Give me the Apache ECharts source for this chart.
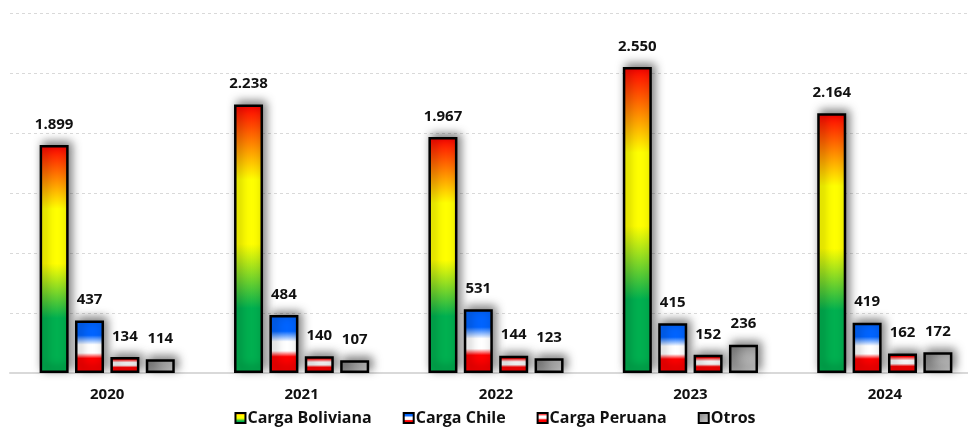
<!DOCTYPE html>
<html>
<head>
<meta charset="utf-8">
<script src="https://cdn.jsdelivr.net/npm/echarts@6/dist/echarts.min.js"></script>
<style>
  html, body { margin: 0; padding: 0; background: #ffffff; overflow: hidden; }
  #chart { width: 990px; height: 428px; }
</style>
</head>
<body>
<div id="chart"></div>
<script>
// Carga movilizada por año (miles de toneladas)
const years = ['2020', '2021', '2022', '2023', '2024'];
const cargaBoliviana = [1899, 2238, 1967, 2550, 2164];
const cargaChile = [437, 484, 531, 415, 419];
const cargaPeruana = [134, 140, 144, 152, 162];
const otros = [114, 107, 123, 236, 172];
const yTicks = [0, 500, 1000, 1500, 2000, 2500, 3000];

const FONT = '"Open Sans"';

function vGrad(stops) {
  return new echarts.graphic.LinearGradient(0, 0, 0, 1,
    stops.map(s => ({ offset: s[0], color: s[1] })));
}

const fills = {
  bol: vGrad([[0, '#ff0000'], [0.28, '#ffff00'], [0.52, '#ffff00'], [0.76, '#00b050'], [1, '#00b050']]),
  chi: vGrad([[0, '#0064ff'], [0.28, '#0064ff'], [0.46, '#ffffff'], [0.62, '#ffffff'], [0.72, '#ff0000'], [1, '#ff0000']]),
  per: vGrad([[0, '#ff0000'], [0.15, '#ff0000'], [0.35, '#ffffff'], [0.52, '#ffffff'], [0.66, '#ff0000'], [1, '#ff0000']]),
  otr: new echarts.graphic.LinearGradient(0, 0, 1, 1, [
    { offset: 0, color: '#7a7a7a' }, { offset: 1, color: '#d6d6d6' }])
};

function fmt(v) {
  return String(v).replace(/\B(?=(\d{3})+(?!\d))/g, '.');
}

function barSeries(name, data, fill) {
  return {
    name: name,
    type: 'bar',
    data: data,
    barWidth: 29,
    barGap: '22%',
    itemStyle: {
      color: fill,
      borderColor: '#000000',
      borderWidth: 2.5,
      shadowColor: 'rgba(0,0,0,0.5)',
      shadowBlur: 10,
      shadowOffsetX: 3,
      shadowOffsetY: -3
    },
    label: {
      show: true,
      position: 'top',
      distance: 13,
      formatter: p => fmt(p.value),
      fontFamily: FONT,
      fontWeight: 'bold',
      fontSize: 15,
      color: '#111111'
    }
  };
}

const chart = echarts.init(document.getElementById('chart'), null, { renderer: 'canvas' });
chart.setOption({
  animation: false,
  backgroundColor: '#ffffff',
  grid: { left: 10, right: 8, top: 13, height: 360, containLabel: false },
  legend: {
    top: 410,
    left: 'center',
    padding: 0,
    itemWidth: 10,
    itemHeight: 10,
    itemGap: 31,
    icon: 'rect',
    textStyle: { fontFamily: FONT, fontWeight: 'bold', fontSize: 16, color: '#111111', padding: [0, 0, 0, -3] },
    itemStyle: { borderColor: '#000000', borderWidth: 2, shadowBlur: 0, shadowOffsetX: 0, shadowOffsetY: 0 },
    data: ['Carga Boliviana', 'Carga Chile', 'Carga Peruana', 'Otros']
  },
  xAxis: {
    type: 'category',
    data: years,
    axisLine: { show: true, lineStyle: { color: '#d9d9d9', width: 2 } },
    axisTick: { show: false },
    axisLabel: { margin: 14, fontFamily: FONT, fontWeight: 'bold', fontSize: 15, color: '#111111' }
  },
  yAxis: {
    type: 'value',
    min: yTicks[0],
    max: yTicks[yTicks.length - 1],
    interval: yTicks[1] - yTicks[0],
    axisLine: { show: false },
    axisTick: { show: false },
    axisLabel: { show: false },
    splitLine: { show: true, lineStyle: { color: '#d9d9d9', type: [3, 3], width: 1 } }
  },
  series: [
    barSeries('Carga Boliviana', cargaBoliviana, fills.bol),
    barSeries('Carga Chile', cargaChile, fills.chi),
    barSeries('Carga Peruana', cargaPeruana, fills.per),
    barSeries('Otros', otros, fills.otr)
  ]
});
</script>
</body>
</html>
